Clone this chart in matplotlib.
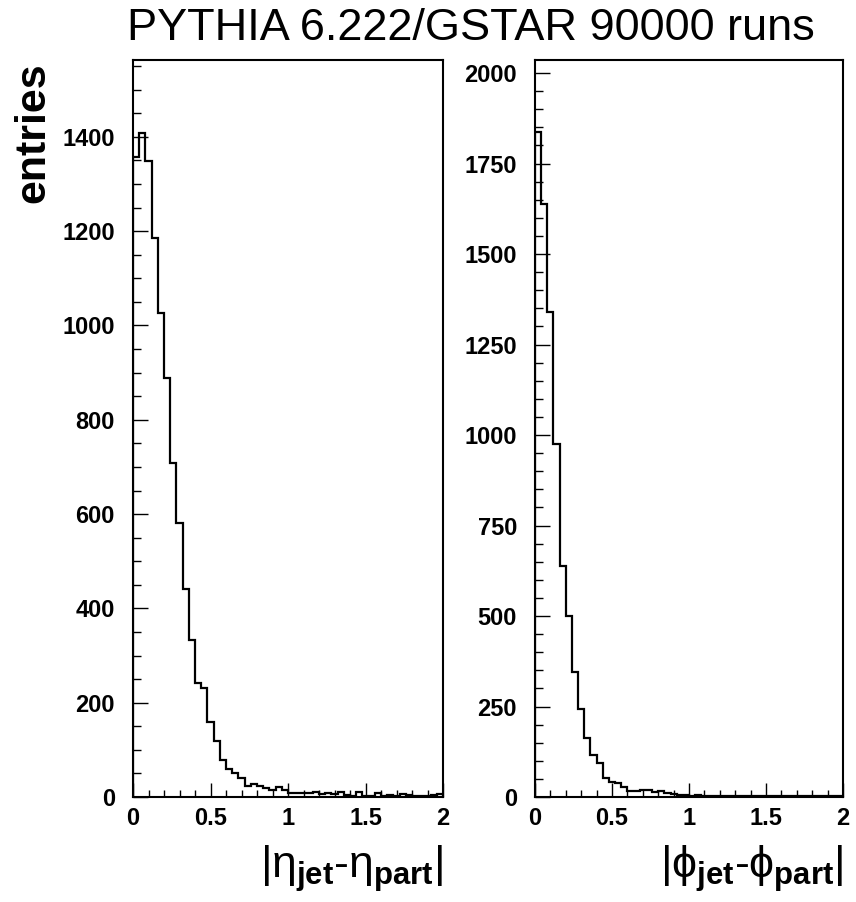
import matplotlib
matplotlib.use("Agg")
import matplotlib.pyplot as plt
import numpy as np
from matplotlib.ticker import MultipleLocator

plt.rcParams['font.family'] = ['Liberation Sans', 'DejaVu Sans']
plt.rcParams['mathtext.fontset'] = 'custom'
plt.rcParams['mathtext.rm'] = 'Liberation Sans'
plt.rcParams['mathtext.it'] = 'Liberation Sans'
plt.rcParams['mathtext.bf'] = 'Liberation Sans:bold'

# ---- data ----
title = "PYTHIA 6.222/GSTAR 90000 runs"
bin_edges = np.linspace(0.0, 2.0, 51)
eta_counts = [1357, 1408, 1348, 1186, 1027, 889, 708, 581, 441, 333,
              242, 231, 159, 119, 78, 60, 50, 40, 24, 28,
              24, 20, 15, 22, 15, 9, 8, 9, 8, 11,
              7, 9, 6, 11, 4, 2, 10, 3, 2, 8,
              2, 4, 2, 6, 4, 2, 2, 3, 4, 7]
phi_counts = [1836, 1638, 1340, 976, 637, 501, 345, 244, 163, 117,
              93, 53, 42, 40, 29, 17, 17, 19, 19, 13,
              17, 10, 7, 5, 6, 4, 5, 3, 4, 3,
              4, 3, 2, 3, 2, 3, 2, 4, 2, 3,
              2, 3, 4, 2, 3, 2, 2, 3, 2, 3]
eta_label = r'$|\eta_{\mathbf{jet}}\text{-}\eta_{\mathbf{part}}|$'
phi_label = r'$|\phi_{\mathbf{jet}}\text{-}\phi_{\mathbf{part}}|$'
ylabel = "entries"

W, H = 856, 902
fig = plt.figure(figsize=(W / 100, H / 100), dpi=100)

def px_axes(x0, y0, x1, y1):
    return fig.add_axes([x0 / W, 1 - y1 / H, (x1 - x0) / W, (y1 - y0) / H])

axL = px_axes(133, 60, 443, 797)
axR = px_axes(535, 60, 843, 797)

panels = [
    (axL, eta_counts, 1563, 200, 50, eta_label),
    (axR, phi_counts, 2036, 250, 50, phi_label),
]

for ax, counts, ytop, ymaj, ymin, xl in panels:
    ax.stairs(counts, bin_edges, color='black', linewidth=1.6)
    ax.set_xlim(0, 2)
    ax.set_ylim(0, ytop)
    for s in ax.spines.values():
        s.set_linewidth(1.5)
        s.set_color('black')
    ax.xaxis.set_major_locator(MultipleLocator(0.5))
    ax.xaxis.set_minor_locator(MultipleLocator(0.1))
    ax.yaxis.set_major_locator(MultipleLocator(ymaj))
    ax.yaxis.set_minor_locator(MultipleLocator(ymin))
    ax.tick_params(axis='both', which='both', direction='in', top=False, right=False)
    ax.tick_params(axis='x', which='major', length=10, width=1.0, pad=7)
    ax.tick_params(axis='x', which='minor', length=5, width=1.0)
    ax.tick_params(axis='y', which='major', length=11, width=1.0, pad=13)
    ax.tick_params(axis='y', which='minor', length=6, width=1.0)
    for lab in ax.get_xticklabels() + ax.get_yticklabels():
        lab.set_fontsize(17)
        lab.set_fontweight('bold')
    ax.xaxis.set_major_formatter(matplotlib.ticker.FuncFormatter(
        lambda v, p: ('%g' % v)))
    ax.text(1.0, -0.062, xl, transform=ax.transAxes, ha='right', va='top',
            fontsize=32)

fig.text(471 / W, 1 - 28 / H, title, ha='center', va='center', fontsize=32.5)
fig.text(33 / W, 1 - 62 / H, ylabel, rotation=90, ha='center', va='top',
         fontsize=31, fontweight='bold')

fig.savefig("out.png", dpi=100)
